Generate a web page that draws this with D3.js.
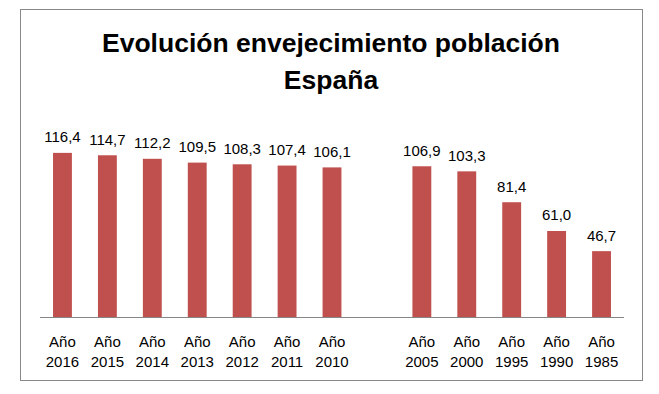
<!DOCTYPE html>
<html>
<head>
<meta charset="utf-8">
<script src="https://cdn.jsdelivr.net/npm/d3@7"></script>
<style>
  html, body { margin: 0; padding: 0; background: #fff; }
  svg { display: block; font-family: "Liberation Sans", Arial, sans-serif; }
</style>
</head>
<body>
<svg id="chart" width="659" height="394"></svg>
<script>
// categories (empty slot between 2010 and 2005, as in the original sheet)
const categories = ['Año 2016', 'Año 2015', 'Año 2014', 'Año 2013', 'Año 2012', 'Año 2011', 'Año 2010',
  '', 'Año 2005', 'Año 2000', 'Año 1995', 'Año 1990', 'Año 1985'];
const values = [116.4, 114.7, 112.2, 109.5, 108.3, 107.4, 106.1, null, 106.9, 103.3, 81.4, 61.0, 46.7];
const titleLines = ['Evolución envejecimiento población', 'España'];

const svg = d3.select('#chart');

// outer chart frame
svg.append('rect')
  .attr('x', 20.5).attr('y', 9.5)
  .attr('width', 622).attr('height', 371)
  .attr('fill', '#fff')
  .attr('stroke', '#888')
  .attr('stroke-width', 1);

// title
svg.append('text')
  .attr('text-anchor', 'middle')
  .attr('font-weight', 'bold')
  .attr('font-size', '26.5px')
  .attr('fill', '#000')
  .selectAll('tspan')
  .data(titleLines)
  .join('tspan')
  .attr('x', 331)
  .attr('y', (d, i) => 52 + i * 37)
  .text((d) => d);

const plot = { left: 40, right: 624, top: 147.8, bottom: 317 };

const x = d3.scaleBand()
  .domain(d3.range(categories.length))
  .range([plot.left, plot.right])
  .paddingInner(0.58)
  .paddingOuter(0.29);

const y = d3.scaleLinear()
  .domain([0, 120])
  .range([plot.bottom, plot.top]);

const data = categories.map((c, i) => ({ i, c, v: values[i] })).filter((d) => d.v !== null);

const fmt = (v) => v.toFixed(1).replace('.', ',');

svg.append('g')
  .selectAll('rect')
  .data(data)
  .join('rect')
  .attr('x', (d) => x(d.i))
  .attr('width', x.bandwidth())
  .attr('y', (d) => y(d.v))
  .attr('height', (d) => y(0) - y(d.v))
  .attr('fill', '#C0504D');

// value labels
svg.append('g')
  .attr('font-size', '15px')
  .attr('fill', '#000')
  .attr('text-anchor', 'middle')
  .selectAll('text')
  .data(data)
  .join('text')
  .attr('x', (d) => x(d.i) + x.bandwidth() / 2)
  .attr('y', (d) => y(d.v) - 10.5)
  .text((d) => fmt(d.v));

// category axis
const xAxis = svg.append('g')
  .attr('transform', `translate(0,${plot.bottom})`)
  .call(d3.axisBottom(x).tickSize(0).tickFormat(() => ''));
xAxis.select('.domain')
  .attr('stroke', '#868686')
  .attr('d', `M${plot.left},0.5H${plot.right}`);

xAxis.selectAll('.tick').each(function (d) {
  const parts = categories[d].split(' ');
  const t = d3.select(this).select('text')
    .attr('font-family', null)
    .attr('font-size', '15px')
    .attr('fill', '#000')
    .attr('dy', null)
    .attr('y', 0)
    .text(null);
  parts.filter((p) => p).forEach((p, k) => {
    t.append('tspan').attr('x', 0).attr('y', 30 + k * 20).text(p);
  });
});
</script>
</body>
</html>
